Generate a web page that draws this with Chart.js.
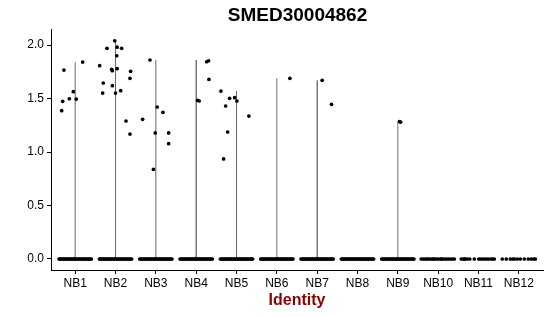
<!DOCTYPE html>
<html><head><meta charset="utf-8">
<script src="https://cdn.jsdelivr.net/npm/chart.js@4.4.1/dist/chart.umd.min.js"></script>
<style>html,body{margin:0;padding:0;background:#fff;}</style>
</head><body>
<canvas id="c" width="550" height="316" style="width:550px;height:316px;display:block"></canvas>
<script>
const titleText = "SMED30004862";
const xTitle = "Identity";
const categories = ["NB1","NB2","NB3","NB4","NB5","NB6","NB7","NB8","NB9","NB10","NB11","NB12"];
const yTicks = [0, 0.5, 1.0, 1.5, 2.0];

// violin extents (max expression per group)
const groupMax = [1.84, 2.04, 1.86, 1.86, 1.57, 1.69, 1.67, 0, 1.28, 0, 0, 0];

// non-zero expression values per group
const nbValues = [
  [1.386,1.474,1.766,1.498,1.564,1.495,1.841],
  [1.807,1.645,1.551,1.969,1.773,1.76,1.62,2.04,1.551,1.9,1.98,1.779,1.573,1.969,1.29,1.168,1.689,1.754],
  [1.306,1.86,1.178,1.421,1.371,1.178,1.078,0.838],
  [1.483,1.477,1.844,1.853,1.679],
  [1.57,0.935,1.43,1.187,1.502,1.508,1.477,1.336],
  [1.689],
  [1.67,1.446],
  [],
  [1.285,1.28],
  [],[],[]
];
// horizontal jitter of those points (category units)
const nbJitter = [
  [-0.335,-0.31,-0.28,-0.146,-0.047,0.027,0.186],
  [-0.393,-0.304,-0.319,-0.212,-0.096,-0.08,-0.08,-0.02,0.0,0.03,0.04,0.04,0.127,0.152,0.26,0.358,0.358,0.375],
  [-0.328,-0.146,-0.015,0.035,0.176,0.317,0.317,-0.06],
  [0.036,0.075,0.259,0.308,0.316],
  [-0.387,-0.32,-0.27,-0.22,-0.171,-0.047,0.01,0.307],
  [0.323],
  [0.124,0.356],
  [],
  [0.04,0.07],
  [],[],[]
];
// jitter of the zero-valued cells
const denseZeroJitter = [-0.40,-0.37,-0.35,-0.32,-0.29,-0.27,-0.24,-0.21,-0.19,-0.16,-0.13,-0.11,-0.08,-0.05,-0.03,0.0,0.02,0.05,0.08,0.10,0.13,0.16,0.18,0.21,0.24,0.26,0.29,0.32,0.35,0.37,0.40];
const zeroJitter = [
  denseZeroJitter, denseZeroJitter, denseZeroJitter, denseZeroJitter, denseZeroJitter,
  denseZeroJitter, denseZeroJitter, denseZeroJitter, denseZeroJitter,
  [-0.42,-0.37,-0.32,-0.28,-0.245,-0.196,-0.146,-0.12,-0.097,-0.047,0.0,0.052,0.08,0.10,0.15,0.2,0.25,0.30,0.35,0.40],
  [-0.426,-0.377,-0.35,-0.327,-0.278,-0.216,-0.104,0.007,0.057,0.107,0.156,0.206,0.255,0.317,0.35,0.392],
  [-0.41,-0.31,-0.21,-0.15,-0.11,-0.037,0.037,0.136,0.235,0.31,0.37,0.41]
];

const lineColors = ["#666666","#666666","#666666","#333333","#666666","#707070","#333333","#666666","#707070","#666666","#666666","#666666"];

const pts = [];
categories.forEach((c, i) => {
  const k = i + 1;
  zeroJitter[i].forEach(j => pts.push({x: k + j, y: 0}));
  nbValues[i].forEach((v, n) => pts.push({x: k + nbJitter[i][n], y: v}));
});

const datasets = [{
  type: 'scatter', data: pts, backgroundColor: '#000', borderColor: '#000',
  pointRadius: 1.85, pointBorderWidth: 0, pointHoverRadius: 1.85
}];
groupMax.forEach((m, i) => {
  if (m > 0) datasets.push({
    type: 'line', data: [{x: i + 1, y: 0}, {x: i + 1, y: m}],
    borderColor: lineColors[i], borderWidth: 1, pointRadius: 0, showLine: true, fill: false
  });
});

const FONT = '"Liberation Sans", Arial, Helvetica, sans-serif';
Chart.defaults.font.family = FONT;

const titlePlugin = {
  id: 'ttl',
  afterDraw(chart) {
    const ctx = chart.ctx, a = chart.chartArea;
    ctx.save();
    ctx.font = 'bold 19px ' + FONT;
    ctx.fillStyle = '#000';
    ctx.textAlign = 'center';
    ctx.textBaseline = 'alphabetic';
    ctx.fillText(titleText, (a.left + a.right) / 2 + 0.5, 21);
    ctx.restore();
  }
};

new Chart(document.getElementById('c'), {
  type: 'scatter',
  data: {datasets},
  options: {
    responsive: false, animation: false,
    layout: {padding: {top: 29, right: 7, left: 0, bottom: 0}},
    plugins: {legend: {display: false}, tooltip: {enabled: false}, title: {display: false}},
    scales: {
      x: {
        type: 'linear', min: 0.4, max: 12.6,
        afterBuildTicks: s => { s.ticks = categories.map((c, i) => ({value: i + 1})); },
        afterFit: s => { s.height = 46; },
        ticks: {callback: (v) => categories[Math.round(v) - 1], color: '#000', font: {size: 12}, padding: 2, maxRotation: 0, autoSkip: false},
        grid: {display: true, drawOnChartArea: false, drawTicks: true, tickLength: 4, color: '#000', lineWidth: 1},
        border: {display: true, color: '#000', width: 1},
        title: {display: true, text: xTitle, color: '#8b0000', font: {size: 16, weight: 'bold'}, padding: {top: 0, bottom: 6}}
      },
      y: {
        type: 'linear', min: -0.103, max: 2.15,
        afterBuildTicks: s => { s.ticks = yTicks.map(v => ({value: v})); },
        afterFit: s => { s.width = 51; },
        ticks: {callback: v => v.toFixed(1), color: '#000', font: {size: 12}, padding: 3},
        grid: {display: true, drawOnChartArea: false, drawTicks: true, tickLength: 4, color: '#000', lineWidth: 1},
        border: {display: true, color: '#000', width: 1}
      }
    }
  },
  plugins: [titlePlugin]
});
</script>
</body></html>
